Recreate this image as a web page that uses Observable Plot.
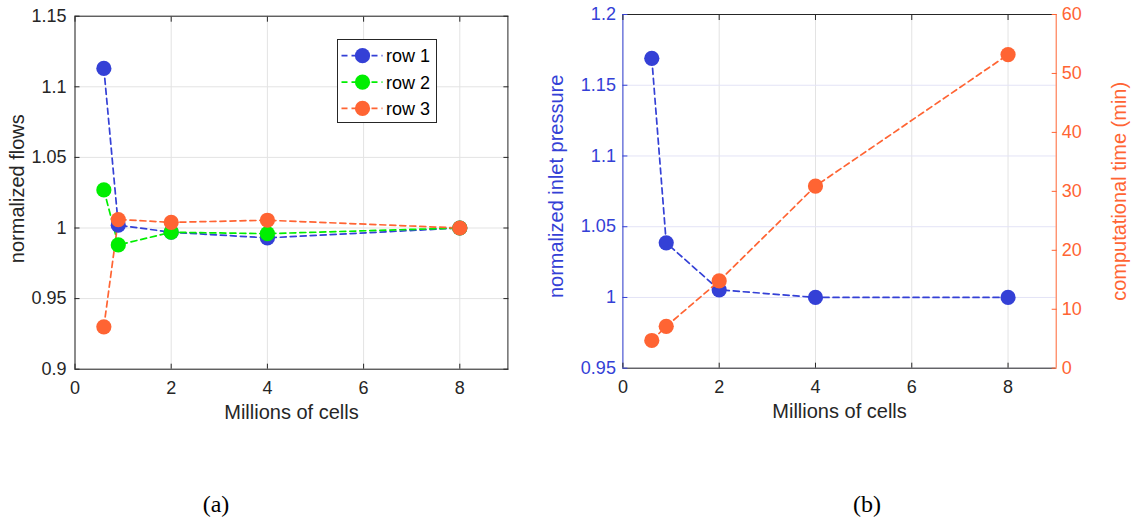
<!DOCTYPE html>
<html><head><meta charset="utf-8">
<script src="https://cdn.jsdelivr.net/npm/d3@7"></script>
<script src="https://cdn.jsdelivr.net/npm/@observablehq/plot@0.6"></script>
<style>
body{margin:0;background:#fff;}
#wrap{position:relative;width:1135px;height:524px;overflow:hidden;font-family:"Liberation Sans",Arial,sans-serif;}
.panel{position:absolute;top:0;}
.cap{position:absolute;top:490px;font-family:"Liberation Serif","Times New Roman",serif;font-size:24px;color:#000;transform:translateX(-50%);line-height:28px;}
#legend{position:absolute;left:336.5px;top:39px;width:98px;height:82px;border:1px solid #262626;background:#fff;}
</style></head><body><div id="wrap"></div>
<script>
// ---- data ----
const cells = [0.6, 0.9, 2, 4, 8];
const seriesNames = ["row 1", "row 2", "row 3"];
const row1 = [1.113, 1.002, 0.997, 0.993, 1.000];
const row2 = [1.027, 0.988, 0.997, 0.996, 1.000];
const row3 = [0.930, 1.006, 1.004, 1.0055, 1.000];
const inletPressure = [1.169, 1.0386, 1.0054, 1.000, 1.000];
const compTime = [4.7, 7.1, 14.8, 30.9, 53.2];
const xTicks = [0, 2, 4, 6, 8];
const flowTicks = [0.9, 0.95, 1, 1.05, 1.1, 1.15];
const pressureTicks = [0.95, 1, 1.05, 1.1, 1.15, 1.2];
const timeTicks = [0, 10, 20, 30, 40, 50, 60];
const colors = ["#3440d6", "#00ee00", "#ff6433"];
const blue = colors[0], orange = colors[2];
const axisCol = "#262626", gridCol = "#e3e3e3";
const fmt = d => String(+(+d).toFixed(2));
const FONT = '"Liberation Sans", Arial, sans-serif';

const wrap = document.getElementById("wrap");
function place(el, left) { el.classList.add("panel"); el.style.left = left + "px"; wrap.appendChild(el); }
const lbl = {fontSize: 20, textAnchor: "middle", lineAnchor: "middle"};

// ---- panel (a) ----
const flows = [row1, row2, row3].flatMap((r, i) => r.map((v, j) => ({x: cells[j], y: v, s: seriesNames[i]})));
const A = Plot.plot({
  width: 540, height: 430,
  marginLeft: 74.5, marginRight: 32.6, marginTop: 15.7, marginBottom: 61.3,
  style: {fontFamily: FONT, fontSize: "18px", color: axisCol, background: "transparent", overflow: "visible"},
  x: {domain: [0, 9]}, y: {domain: [0.9, 1.15]},
  color: {domain: seriesNames, range: colors},
  marks: [
    Plot.gridX(xTicks, {stroke: gridCol, strokeOpacity: 1}),
    Plot.gridY(flowTicks, {stroke: gridCol, strokeOpacity: 1}),
    Plot.frame({stroke: axisCol}),
    Plot.axisX(xTicks, {anchor: "bottom", tickSize: -5, tickPadding: 17, tickFormat: fmt, label: null}),
    Plot.axisX(xTicks, {anchor: "top", tickSize: -5, tickFormat: () => "", label: null}),
    Plot.axisY(flowTicks, {anchor: "left", tickSize: -5, tickPadding: 13.5, tickFormat: fmt, label: null}),
    Plot.axisY(flowTicks, {anchor: "right", tickSize: -5, tickFormat: () => "", label: null}),
    Plot.text(["Millions of cells"], {...lbl, frameAnchor: "bottom", dy: 43, fill: axisCol}),
    Plot.text(["normalized flows"], {...lbl, frameAnchor: "left", dx: -57, dy: -4, rotate: -90, fill: axisCol}),
    Plot.line(flows, {x: "x", y: "y", z: "s", stroke: "s", strokeDasharray: "6,4", strokeWidth: 1.7}),
    Plot.dot(flows, {x: "x", y: "y", fill: "s", r: 7.6})
  ]
});
place(A, 0);

// legend for (a)
const leg = document.createElement("div");
leg.id = "legend";
wrap.appendChild(leg);
const lsvg = d3.select(leg).append("svg").attr("width", 98).attr("height", 82);
const rowsY = [15.7, 42.2, 68.4];
seriesNames.forEach((name, i) => {
  const g = lsvg.append("g").attr("transform", `translate(0,${rowsY[i]})`);
  g.append("line").attr("x1", 3.5).attr("x2", 44.5).attr("y1", 0).attr("y2", 0)
    .attr("stroke", colors[i]).attr("stroke-width", 1.7).attr("stroke-dasharray", "6,4");
  g.append("circle").attr("cx", 24.5).attr("cy", 0).attr("r", 7.6).attr("fill", colors[i]);
  g.append("text").attr("x", 48).attr("y", 0).attr("dy", "0.35em")
    .attr("font-family", FONT).attr("font-size", 18).attr("fill", "#000").text(name);
});

// ---- panel (b) ----
const pressure = cells.map((c, j) => ({x: c, y: inletPressure[j]}));
const timeData = cells.map((c, j) => ({x: c, y: compTime[j]}));
const common = {
  width: 595, height: 430,
  marginLeft: 82.4, marginRight: 79.3, marginTop: 14, marginBottom: 62.3,
  style: {fontFamily: FONT, fontSize: "18px", color: axisCol, background: "transparent", overflow: "visible"}
};
const B1 = Plot.plot({
  ...common,
  x: {domain: [0, 9]},
  y: {domain: [0.95, 1.2]},
  marks: [
    Plot.gridX(xTicks, {stroke: gridCol, strokeOpacity: 1}),
    Plot.gridY(pressureTicks, {stroke: "#e3e3f6", strokeOpacity: 1}),
    Plot.ruleY([1.2], {stroke: axisCol}),
    Plot.ruleY([0.95], {stroke: axisCol}),
    Plot.ruleX([0], {stroke: blue}),
    Plot.axisX(xTicks, {anchor: "bottom", tickSize: -5, tickPadding: 17, tickFormat: fmt, label: null}),
    Plot.axisX(xTicks, {anchor: "top", tickSize: -5, tickFormat: () => "", label: null}),
    Plot.axisY(pressureTicks, {anchor: "left", color: blue, tickSize: -5, tickPadding: 12, tickFormat: fmt, label: null}),
    Plot.text(["Millions of cells"], {...lbl, frameAnchor: "bottom", dy: 43, fill: axisCol}),
    Plot.text(["normalized inlet pressure"], {...lbl, frameAnchor: "left", dx: -66, dy: -5, rotate: -90, fill: blue}),
    Plot.line(pressure, {x: "x", y: "y", stroke: blue, strokeDasharray: "6,4", strokeWidth: 1.7}),
    Plot.dot(pressure, {x: "x", y: "y", fill: blue, r: 7.6})
  ]
});
place(B1, 540);

const B2 = Plot.plot({
  ...common,
  x: {domain: [0, 9], axis: null},
  y: {domain: [0, 60]},
  marks: [
    Plot.ruleX([9], {stroke: orange}),
    Plot.axisY(timeTicks, {anchor: "right", color: orange, tickSize: -5, tickPadding: 10.5, tickFormat: fmt, label: null}),
    Plot.text(["computational time (min)"], {...lbl, frameAnchor: "right", dx: 63, dy: 0, rotate: -90, fill: orange}),
    Plot.line(timeData, {x: "x", y: "y", stroke: orange, strokeDasharray: "6,4", strokeWidth: 1.7}),
    Plot.dot(timeData, {x: "x", y: "y", fill: orange, r: 7.6})
  ]
});
place(B2, 540);

// captions
[["(a)", 216], ["(b)", 867]].forEach(([t, x]) => {
  const d = document.createElement("div");
  d.className = "cap"; d.style.left = x + "px"; d.textContent = t;
  wrap.appendChild(d);
});
</script></body></html>
